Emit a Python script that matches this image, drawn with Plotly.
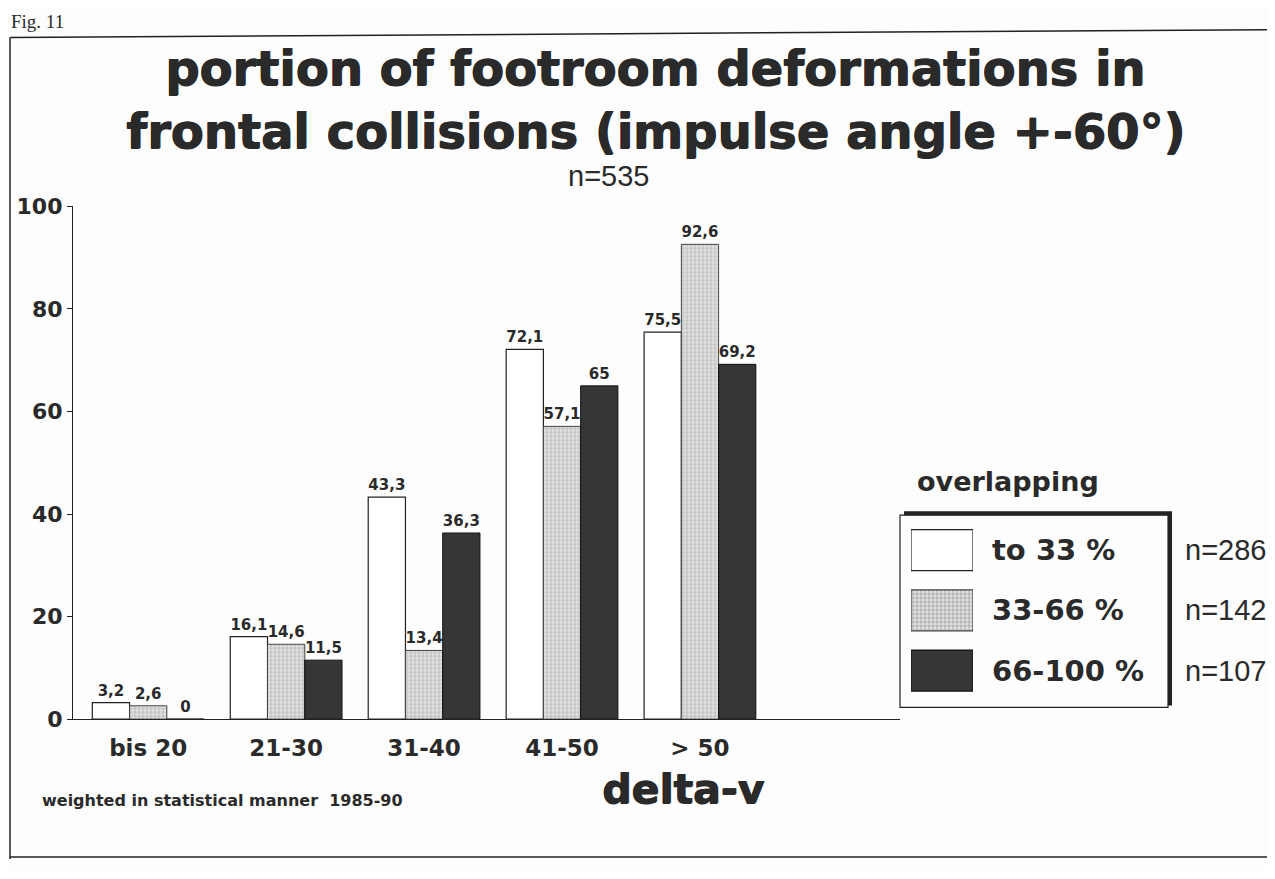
import plotly.graph_objects as go

# ---- data ----
categories = ["bis 20", "21-30", "31-40", "41-50", "> 50"]
to33 = [3.2, 16.1, 43.3, 72.1, 75.5]
mid = [2.6, 14.6, 13.4, 57.1, 92.6]
high = [0, 11.5, 36.3, 65, 69.2]
series_names = ["to 33 %", "33-66 %", "66-100 %"]
series_n = ["n=286", "n=142", "n=107"]
yticks = [0, 20, 40, 60, 80, 100]

# page body has an 8px margin; shrink the figure so it fits the window
OFF = 8
W, H = 1275 - 2 * OFF, 879 - 2 * OFF - 1
INK = "#2a2a2a"
BOLD = "DejaVu Sans"
REG = "Liberation Sans"
HEAVY = "1px 0px 0px #2a2a2a, 0px 1px 0px #2a2a2a"


def px(x):
    return (x - OFF) / W


def py(y):
    return 1 - (y - OFF) / H


def lab(vals):
    return [f"{v:g}".replace(".", ",") for v in vals]


white_style = dict(color="white", line=dict(color="#222", width=1.2))
gray_style = dict(color="#d9d9d9", line=dict(color="#444", width=1),
                  pattern=dict(shape="+", size=4, solidity=0.3, fgcolor="#7a7a7a", bgcolor="#e2e2e2"))
dark_style = dict(color="#363636", line=dict(color="#111", width=1))
styles = [white_style, gray_style, dark_style]
series_vals = [to33, mid, high]

fig = go.Figure()
for name, vals, st in zip(series_names, series_vals, styles):
    fig.add_trace(go.Bar(
        x=categories, y=vals, name=name, marker=st,
        text=lab(vals), textposition="outside", cliponaxis=False,
        textfont=dict(family=BOLD, size=15, color=INK, weight="bold"),
        showlegend=False, xaxis="x", yaxis="y",
    ))

# legend swatches as bars on a second, hidden subplot
fig.add_trace(go.Bar(
    y=[0, 1, 2], x=[1, 1, 1], orientation="h", width=0.68,
    marker=dict(color=["white", "#e2e2e2", "#363636"],
                line=dict(color=["#222", "#444", "#111"], width=1.2),
                pattern=dict(shape=["", "+", ""], size=4, solidity=0.3,
                             fgcolor=["#7a7a7a", "#7a7a7a", "#7a7a7a"],
                             bgcolor=["white", "#e2e2e2", "#363636"])),
    xaxis="x2", yaxis="y2", showlegend=False, hoverinfo="skip",
))

fig.update_layout(
    width=W, height=H, margin=dict(l=0, r=0, t=0, b=0),
    paper_bgcolor="#fdfdfd", plot_bgcolor="rgba(0,0,0,0)",
    barmode="group", bargap=0.19, bargroupgap=0,
    xaxis=dict(domain=[px(73), px(900)], type="category", range=[-0.545, 5.45],
               showline=True, linecolor="#222", linewidth=1.2, ticks="",
               showgrid=False, zeroline=False, ticklabelstandoff=8,
               tickfont=dict(family=BOLD, size=23, color=INK, weight="bold")),
    yaxis=dict(domain=[py(728), py(200)], range=[0, 100], tickvals=yticks,
               showline=True, linecolor="#222", linewidth=1.2, ticks="outside",
               ticklen=5, tickcolor="#222", showgrid=False, zeroline=False,
               tickfont=dict(family=BOLD, size=22, color=INK, weight="bold")),
    xaxis2=dict(domain=[px(911), px(973)], range=[0, 1], visible=False, anchor="y2"),
    yaxis2=dict(domain=[py(709), py(523)], range=[2.5, -0.5], visible=False, anchor="x2"),
)

ann = []
ann.append(dict(text="Fig. 11", x=px(9), y=py(10), xanchor="left", yanchor="middle",
                font=dict(family="Liberation Serif", size=19, color=INK)))
ann.append(dict(text="portion of footroom deformations in", x=px(655), y=py(57),
                xanchor="center", yanchor="middle",
                font=dict(family=BOLD, size=48, color=INK, weight="bold", shadow=HEAVY)))
ann.append(dict(text="frontal collisions (impulse angle +-60°)", x=px(655), y=py(122),
                xanchor="center", yanchor="middle",
                font=dict(family=BOLD, size=48, color=INK, weight="bold", shadow=HEAVY)))
ann.append(dict(text="n=535", x=px(608), y=py(169), xanchor="center", yanchor="middle",
                font=dict(family=REG, size=29, color=INK)))
ann.append(dict(text="delta-v", x=px(683), y=py(800), xanchor="center", yanchor="middle",
                font=dict(family=BOLD, size=41, color=INK, weight="bold", shadow=HEAVY)))
ann.append(dict(text="weighted in statistical manner  1985-90", x=px(40), y=py(812),
                xanchor="left", yanchor="middle",
                font=dict(family=BOLD, size=16, color=INK, weight="bold")))
ann.append(dict(text="overlapping", x=px(915), y=py(483), xanchor="left", yanchor="middle",
                font=dict(family=BOLD, size=27, color=INK, weight="bold")))
for i, (nm, nn) in enumerate(zip(series_names, series_n)):
    yc = 554 + 62 * i
    ann.append(dict(text=nm, x=px(990), y=py(yc), xanchor="left", yanchor="middle",
                    font=dict(family=BOLD, size=29, color=INK, weight="bold")))
    ann.append(dict(text=nn, x=px(1183), y=py(yc), xanchor="left", yanchor="middle",
                    font=dict(family=REG, size=29, color=INK)))
for a in ann:
    a.update(xref="paper", yref="paper", showarrow=False)
fig.update_layout(annotations=ann)

shapes = [
    # outer frame
    dict(type="line", x0=px(10), y0=py(26), x1=px(10), y1=py(872), line=dict(color="#222", width=1.5)),
    dict(type="line", x0=px(10), y0=py(26), x1=px(1275), y1=py(18), line=dict(color="#222", width=1.5)),
    dict(type="line", x0=px(10), y0=py(870), x1=px(1275), y1=py(870), line=dict(color="#222", width=1.5)),
    # legend box
    dict(type="rect", x0=px(900), y0=py(716), x1=px(1168), y1=py(518), line=dict(color="#222", width=1.2)),
    dict(type="line", x0=px(904), y0=py(516), x1=px(1172), y1=py(516), line=dict(color="#222", width=4)),
    dict(type="line", x0=px(1170), y0=py(516), x1=px(1170), y1=py(714), line=dict(color="#222", width=4)),
]
for s in shapes:
    s.update(xref="paper", yref="paper")
fig.update_layout(shapes=shapes)

fig.write_html("out.html")
